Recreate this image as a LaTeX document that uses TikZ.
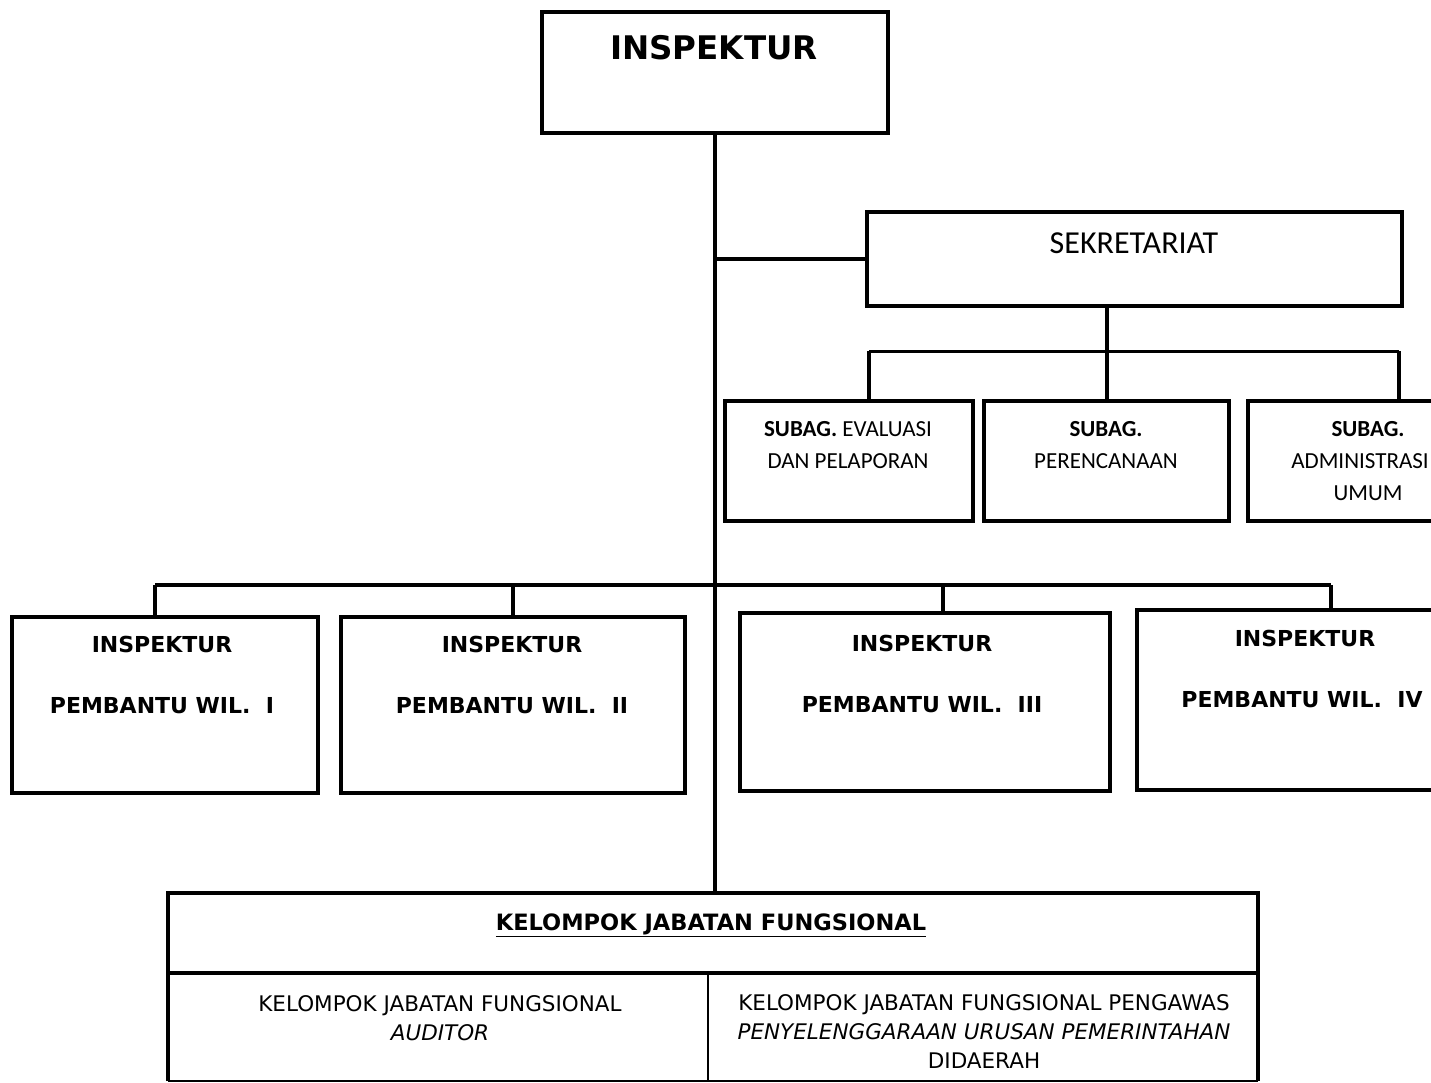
\documentclass[tikz,border=0pt]{standalone}
\usepackage{fontspec}
\newfontfamily\verd{DejaVu Sans}
\newfontfamily\calib{Carlito}
\begin{document}
\begin{tikzpicture}[x=1pt,y=-1pt,
  box/.style={draw=black, line width=4pt, inner sep=0pt, fill=white},
  conn/.style={draw=black, line width=4pt},
  thinconn/.style={draw=black, line width=3pt},
  boldlbl/.style={anchor=base, inner sep=0pt, font=\verd\bfseries\fontsize{22}{26}\selectfont},
  sublbl/.style={anchor=base, inner sep=0pt, font=\calib\fontsize{23}{28}\selectfont},
  kjflbl/.style={anchor=base, inner sep=0pt, font=\verd\fontsize{21.5}{26}\selectfont}]
\useasboundingbox (0,0) rectangle (1431,1083);
\fill[white] (0,0) rectangle (1431,1083);
\clip (0,0) rectangle (1431,1083);

% boxes
\node[box, minimum width=346pt, minimum height=121pt] (insp) at (715,72.5) {};
\node[box, minimum width=535pt, minimum height=94pt] (sek) at (1134.5,259) {};
\node[box, minimum width=248pt, minimum height=120pt] (subA) at (849,461) {};
\node[box, minimum width=245pt, minimum height=120pt] (subB) at (1106.5,461) {};
\node[box, minimum width=197pt, minimum height=120pt] (subC) at (1346.5,461) {};
\node[box, minimum width=306pt, minimum height=176pt] (pb1) at (165,705) {};
\node[box, minimum width=344pt, minimum height=176pt] (pb2) at (513,705) {};
\node[box, minimum width=370pt, minimum height=178pt] (pb3) at (925,702) {};
\node[box, minimum width=308pt, minimum height=180pt] (pb4) at (1291,700) {};
\node[inner sep=0pt, minimum width=1090pt, minimum height=188pt] (kjf) at (713,987) {};

% connectors
\draw[conn] (insp.south) -- (insp.south |- kjf.north);
\draw[conn] (sek.west) -- (sek.west -| insp.south);
\draw[conn] (sek.south -| subB.north) -- (subB.north);
\coordinate (sa) at (869,351);
\coordinate (sc) at (1399,351);
\draw[thinconn] (sa) -- (sc);
\draw[conn] (sa) -- (sa |- subA.north);
\draw[conn] (sc) -- (sc |- subC.north);
\coordinate (p1) at (155,585);
\coordinate (p3) at (943,585);
\coordinate (p4) at (1331,585);
\draw[conn] (p1) -- (p4);
\draw[conn] (p1) -- (p1 |- pb1.north);
\draw[conn] (pb2.north |- p1) -- (pb2.north);
\draw[conn] (p3) -- (p3 |- pb3.north);
\draw[conn] (p4) -- (p4 |- pb4.north);

% kelompok box
\draw[line width=4pt] (kjf.south west) -- (kjf.north west) -- (kjf.north east) -- (kjf.south east);
\draw[line width=1.5pt] (kjf.south west) -- (kjf.south east);
\coordinate (divy) at (0,973);
\coordinate (divx) at (708,0);
\draw[line width=3.5pt] (kjf.west |- divy) -- (kjf.east |- divy);
\draw[line width=2pt] (divx |- divy) -- (divx |- kjf.south);

% labels
\node[anchor=base, inner sep=0pt, font=\verd\bfseries\fontsize{32.5}{38}\selectfont] (tInsp) at (714,60) {INSPEKTUR};
\node[anchor=base, inner sep=0pt, font=\calib\fontsize{32}{38}\selectfont] (tSek) at (1134,254) {SEKRETARIAT};

\node[sublbl] (tA1) at (848,436) {\textbf{SUBAG.} EVALUASI};
\node[sublbl] (tA2) at (848,468) {DAN PELAPORAN};
\node[sublbl] (tB1) at (1106,436) {\textbf{SUBAG.}};
\node[sublbl] (tB2) at (1106,468) {PERENCANAAN};
\node[sublbl] (tC1) at (1368,436) {\textbf{SUBAG.}};
\node[sublbl] (tC2) at (1360,468) {ADMINISTRASI};
\node[sublbl] (tC3) at (1368,500) {UMUM};

\node[boldlbl] (t1a) at (162,652) {INSPEKTUR};
\node[boldlbl] (t1b) at (162,713) {PEMBANTU WIL.\ \ I};
\node[boldlbl] (t2a) at (512,652) {INSPEKTUR};
\node[boldlbl] (t2b) at (512,713) {PEMBANTU WIL.\ \ II};
\node[boldlbl] (t3a) at (922,651) {INSPEKTUR};
\node[boldlbl] (t3b) at (922,712) {PEMBANTU WIL.\ \ III};
\node[boldlbl] (t4a) at (1305,646) {INSPEKTUR};
\node[boldlbl] (t4b) at (1302,707) {PEMBANTU WIL.\ \ IV};

\node[anchor=base, inner sep=0pt, font=\verd\bfseries\fontsize{22.5}{27}\selectfont] (tK) at (711,930) {\underline{KELOMPOK JABATAN FUNGSIONAL}};
\node[kjflbl] (tL1) at (440,1011) {KELOMPOK JABATAN FUNGSIONAL};
\node[kjflbl] (tL2) at (440,1040) {\textit{AUDITOR}};
\node[kjflbl] (tR1) at (984,1010) {KELOMPOK JABATAN FUNGSIONAL PENGAWAS};
\node[kjflbl] (tR2) at (984,1039) {\textit{PENYELENGGARAAN URUSAN PEMERINTAHAN}};
\node[kjflbl] (tR3) at (984,1068) {DIDAERAH};
\end{tikzpicture}
\end{document}
